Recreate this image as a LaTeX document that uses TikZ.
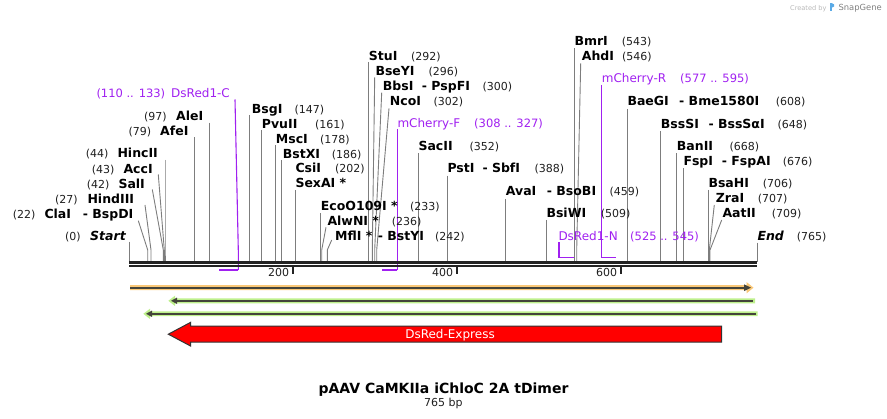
\documentclass[tikz,border=0pt]{standalone}
\usepackage{fontspec}
\setmainfont{DejaVu Sans}
\definecolor{purp}{RGB}{160,32,240}
\definecolor{cutgray}{RGB}{125,125,125}
\definecolor{seqblack}{RGB}{34,34,34}
\definecolor{orband}{RGB}{250,200,120}
\definecolor{grband}{RGB}{190,240,140}
\definecolor{featline}{RGB}{68,68,58}
\definecolor{snapblue}{RGB}{90,170,230}
\newcommand\mkcut[4]{%
  \coordinate (#1t) at (#2,#3);
  \coordinate (#1b) at (#4,250);
  \coordinate (#1s) at (#4,262);
  \draw[cutl] (#1t) -- (#1b) -- (#1s);}
\begin{document}
\begin{tikzpicture}[x=1pt,y=-1pt,
  nm/.style={font=\fontsize{12.5}{14}\selectfont\bfseries, anchor=base west, inner sep=0pt},
  nmi/.style={font=\fontsize{12.5}{14}\selectfont\bfseries\itshape, anchor=base west, inner sep=0pt},
  num/.style={font=\fontsize{11}{13}\selectfont, text=black!88, anchor=base west, inner sep=0pt},
  prim/.style={font=\fontsize{12}{14}\selectfont, text=purp, anchor=base west, inner sep=0pt},
  primn/.style={font=\fontsize{11.5}{13}\selectfont, text=purp, anchor=base west, inner sep=0pt},
  cutl/.style={draw=cutgray, line width=0.9pt},
  priml/.style={draw=purp, line width=1.1pt},
  bracket/.style={draw=purp, line width=1.6pt},
  seqline/.style={draw=seqblack, line width=2.5pt},
  tickl/.style={draw=seqblack, line width=1.8pt},
  ticklab/.style={font=\fontsize{11}{13}\selectfont, text=black!88, anchor=base east, inner sep=0pt},
  featl/.style={draw=featline, line width=2pt},
]
\useasboundingbox (0,0) rectangle (887,419);

% ---------- cut-site lines ----------
\mkcut{Start}{129.3}{241.7}{129.3}
\mkcut{ClaI}{138.3}{220.7}{147.7}
\mkcut{HindIII}{145}{205}{151}
\mkcut{SalI}{152.3}{189.5}{163.3}
\mkcut{AccI}{158.3}{174.5}{164.3}
\mkcut{HincII}{165}{160}{165}
\mkcut{AfeI}{194.3}{137.3}{194.3}
\mkcut{AleI}{209.3}{122.7}{209.3}
\mkcut{BsgI}{249.3}{115}{249.3}
\mkcut{PvuII}{261.7}{129.8}{261.7}
\mkcut{MscI}{275.7}{145}{275.7}
\mkcut{BstXI}{281.3}{159.8}{281.3}
\mkcut{SexAI}{295.3}{190}{295.3}
\mkcut{EcoO}{320.3}{213.3}{320.3}
\mkcut{AlwNI}{326}{227.3}{321.7}
\mkcut{MflI}{331.7}{240}{327.3}
\mkcut{StuI}{368.7}{62}{368.7}
\mkcut{BseYI}{374.7}{77.3}{372.3}
\mkcut{BbsI}{381.7}{92.7}{374.7}
\mkcut{NcoI}{389}{108.3}{376.7}
\mkcut{SacII}{418.3}{153.3}{418.3}
\mkcut{PstI}{447.3}{175.7}{447.3}
\mkcut{AvaI}{505.7}{199}{505.7}
\mkcut{BsiWI}{546.3}{220}{546.3}
\mkcut{BmrI}{574.3}{48.3}{574.3}
\mkcut{AhdI}{580.7}{63.3}{576.7}
\mkcut{BaeGI}{627.3}{109}{627.3}
\mkcut{BssSI}{660.7}{131}{660.7}
\mkcut{BanII}{676.7}{153.3}{676.7}
\mkcut{FspI}{683.3}{168.3}{683.3}
\mkcut{BsaHI}{708.3}{190}{708.3}
\mkcut{ZraI}{714.3}{205}{709.3}
\mkcut{AatII}{721.7}{220}{710}
\mkcut{End}{757.3}{242.7}{757.3}

% ---------- primer lines ----------
\coordinate (pCt) at (235,99.5);
\coordinate (pCb) at (238.3,250);
\coordinate (pCe) at (238.3,270);
\coordinate (pCl) at (219,270);
\draw[priml] (pCt) -- (pCb) -- (pCe);
\draw[bracket] (pCe) -- (pCl);
\coordinate (pFt) at (397.3,129.5);
\coordinate (pFe) at (397.3,270);
\coordinate (pFl) at (381.7,270);
\draw[priml] (pFt) -- (pFe);
\draw[bracket] (pFe) -- (pFl);
\coordinate (pNt) at (558.7,242.5);
\coordinate (pNe) at (558.7,257.7);
\coordinate (pNr) at (574.3,257.7);
\draw[bracket] (pNt) -- (pNe) -- (pNr);
\coordinate (pRt) at (601.7,85);
\coordinate (pRe) at (601.7,257.7);
\coordinate (pRr) at (615.7,257.7);
\draw[priml] (pRt) -- (pRe);
\draw[bracket] (pRe) -- (pRr);

% ---------- sequence line and ticks ----------
\coordinate (seqLa) at (129.3,262.3);
\coordinate (seqRa) at (757.3,262.3);
\coordinate (seqLb) at (129.3,266.2);
\coordinate (seqRb) at (757.3,266.2);
\draw[seqline] (seqLa) -- (seqRa);
\draw[seqline] (seqLb) -- (seqRb);
\foreach \p/\x in {200/292.7,400/456.7,600/620.7}{
  \coordinate (tk\p a) at (\x,267.5);
  \coordinate (tk\p b) at (\x,274.3);
  \draw[tickl] (tk\p a) -- (tk\p b);
  \node[ticklab] (tl\p) at (\x-3.4,276.7) {\p};
}

% ---------- left labels ----------
\node[num] (nStart) at (65,240.7) {(0)};
\node[nmi] (lStart) at (90,240.7) {Start};
\node[num] (nClaI) at (12.7,218.3) {(22)};
\node[nm] (lClaI) at (44.3,218.3) {ClaI};
\node[nm] (lBspDI) at (82.7,218.3) {- BspDI};
\node[num] (nHindIII) at (55,203.3) {(27)};
\node[nm] (lHindIII) at (87.3,203.3) {HindIII};
\node[num] (nSalI) at (86.7,188.3) {(42)};
\node[nm] (lSalI) at (118.3,188.3) {SalI};
\node[num] (nAccI) at (91.7,173.3) {(43)};
\node[nm] (lAccI) at (123.3,173.3) {AccI};
\node[num] (nHincII) at (85.7,157.7) {(44)};
\node[nm] (lHincII) at (117.3,157.7) {HincII};
\node[num] (nAfeI) at (128.3,136) {(79)};
\node[nm] (lAfeI) at (160,136) {AfeI};
\node[num] (nAleI) at (144,120.7) {(97)};
\node[nm] (lAleI) at (176,120.7) {AleI};
\node[primn] (nDsC) at (96.3,98) {(110 .. 133)};
\node[prim] (lDsC) at (171,98) {DsRed1-C};

% ---------- middle / right labels ----------
\node[nm] (lBsgI) at (251.7,113.3) {BsgI};
\node[num] (nBsgI) at (294.3,113.3) {(147)};
\node[nm] (lPvuII) at (261.7,128.3) {PvuII};
\node[num] (nPvuII) at (315,128.3) {(161)};
\node[nm] (lMscI) at (275.7,143.3) {MscI};
\node[num] (nMscI) at (320,143.3) {(178)};
\node[nm] (lBstXI) at (282.7,158.3) {BstXI};
\node[num] (nBstXI) at (331.7,158.3) {(186)};
\node[nm] (lCsiI) at (295.3,172.7) {CsiI};
\node[num] (nCsiI) at (335,172.7) {(202)};
\node[nm] (lSexAI) at (295.3,187.7) {SexAI *};
\node[nm] (lEcoO) at (320.7,210.7) {EcoO109I *};
\node[num] (nEcoO) at (410,210.7) {(233)};
\node[nm] (lAlwNI) at (327.3,226) {AlwNI *};
\node[num] (nAlwNI) at (391.7,226) {(236)};
\node[nm] (lMflI) at (335,241) {MflI *};
\node[nm] (lBstYI) at (377.7,241) {- BstYI};
\node[num] (nMflI) at (435,241) {(242)};
\node[nm] (lStuI) at (368.7,60.7) {StuI};
\node[num] (nStuI) at (411,60.7) {(292)};
\node[nm] (lBseYI) at (375.3,76) {BseYI};
\node[num] (nBseYI) at (428.3,76) {(296)};
\node[nm] (lBbsI) at (382.7,90.7) {BbsI};
\node[nm] (lPspFI) at (421.7,90.7) {- PspFI};
\node[num] (nBbsI) at (482.3,90.7) {(300)};
\node[nm] (lNcoI) at (389.7,106) {NcoI};
\node[num] (nNcoI) at (433.3,106) {(302)};
\node[prim] (lmChF) at (397.3,127.3) {mCherry-F};
\node[primn] (nmChF) at (474,127.3) {(308 .. 327)};
\node[nm] (lSacII) at (418.3,151) {SacII};
\node[num] (nSacII) at (469.3,151) {(352)};
\node[nm] (lPstI) at (447.3,172.3) {PstI};
\node[nm] (lSbfI) at (482.3,172.3) {- SbfI};
\node[num] (nPstI) at (534.3,172.3) {(388)};
\node[nm] (lAvaI) at (505.7,195.7) {AvaI};
\node[nm] (lBsoBI) at (546.7,195.7) {- BsoBI};
\node[num] (nAvaI) at (609.3,195.7) {(459)};
\node[nm] (lBsiWI) at (546.3,217.7) {BsiWI};
\node[num] (nBsiWI) at (600.7,217.7) {(509)};
\node[prim] (lDsN) at (558.3,240.7) {DsRed1-N};
\node[primn] (nDsN) at (630,240.7) {(525 .. 545)};
\node[nm] (lBmrI) at (574.3,46) {BmrI};
\node[num] (nBmrI) at (621.7,46) {(543)};
\node[nm] (lAhdI) at (581.7,61) {AhdI};
\node[num] (nAhdI) at (622,61) {(546)};
\node[prim] (lmChR) at (601.7,82.3) {mCherry-R};
\node[primn] (nmChR) at (680,82.3) {(577 .. 595)};
\node[nm] (lBaeGI) at (627.3,105.7) {BaeGI};
\node[nm] (lBme) at (679,105.7) {- Bme1580I};
\node[num] (nBaeGI) at (775.7,105.7) {(608)};
\node[nm] (lBssSI) at (660.7,128.3) {BssSI};
\node[nm] (lBssSaI) at (708.3,128.3) {- BssSαI};
\node[num] (nBssSI) at (777.3,128.3) {(648)};
\node[nm] (lBanII) at (676.7,150.7) {BanII};
\node[num] (nBanII) at (729.3,150.7) {(668)};
\node[nm] (lFspI) at (683.3,165.7) {FspI};
\node[nm] (lFspAI) at (721.7,165.7) {- FspAI};
\node[num] (nFspI) at (782.7,165.7) {(676)};
\node[nm] (lBsaHI) at (708.3,187.7) {BsaHI};
\node[num] (nBsaHI) at (762.7,187.7) {(706)};
\node[nm] (lZraI) at (715.7,202.7) {ZraI};
\node[num] (nZraI) at (757.7,202.7) {(707)};
\node[nm] (lAatII) at (722.3,217.7) {AatII};
\node[num] (nAatII) at (771.7,217.7) {(709)};
\node[nmi] (lEnd) at (757.3,241) {End};
\node[num] (nEnd) at (796.7,241) {(765)};

% ---------- features ----------
% orange forward
\fill[orband] (130,285.2) -- (746.5,285.2) -- (746.5,282) -- (753.5,287.7) -- (746.5,293.4) -- (746.5,290.2) -- (130,290.2) -- cycle;
\coordinate (orL) at (130,287.7);
\coordinate (orR) at (745,287.7);
\draw[featl] (orL) -- (orR);
\fill[featline] (744,284.3) -- (751,287.7) -- (744,291.1) -- cycle;
% green reverse 1
\fill[grband] (755,298.3) -- (175,298.3) -- (175,295.7) -- (168.3,300.8) -- (175,306) -- (175,303.3) -- (755,303.3) -- cycle;
\coordinate (g1R) at (752.7,300.8);
\coordinate (g1L) at (176,300.8);
\draw[featl] (g1R) -- (g1L);
\fill[featline] (177,297.6) -- (171,300.8) -- (177,304) -- cycle;
% green reverse 2
\fill[grband] (757.7,311.5) -- (150,311.5) -- (150,308.7) -- (143.3,313.8) -- (150,319) -- (150,316.2) -- (757.7,316.2) -- cycle;
\coordinate (g2R) at (755.7,313.8);
\coordinate (g2L) at (151,313.8);
\draw[featl] (g2R) -- (g2L);
\fill[featline] (152,310.6) -- (146,313.8) -- (152,317) -- cycle;
% DsRed-Express
\draw[fill=red, draw=black!80, line width=1pt] (168.3,334.2) -- (190.7,322.3) -- (190.7,326.2) -- (721.7,326.2) -- (721.7,342.2) -- (190.7,342.2) -- (190.7,346.1) -- cycle;
\node[font=\fontsize{12}{14}\selectfont, text=white, anchor=base, inner sep=0pt] (lDsEx) at (450,338.3) {DsRed-Express};

% ---------- title ----------
\node[font=\fontsize{14}{16}\selectfont\bfseries, anchor=base, inner sep=0pt] (title) at (443.5,393.3) {pAAV CaMKIIa iChloC 2A tDimer};
\node[font=\fontsize{11}{13}\selectfont, text=black!88, anchor=base, inner sep=0pt] (bp) at (443.4,406.7) {765 bp};

% ---------- credit ----------
\node[font=\fontsize{6.6}{8}\selectfont, text=black!28, anchor=base west, inner sep=0pt] (cred) at (790,10.3) {Created by};
\fill[snapblue] (829.6,3.2) rectangle (831.9,11.2);
\fill[snapblue] (831.9,3.2) -- (834.2,4.4) -- (834.2,6.4) -- (831.9,7.6) -- cycle;
\node[font=\fontsize{8.4}{10}\selectfont, text=black!50, anchor=base west, inner sep=0pt] (snap) at (838.3,10.6) {SnapGene};
\end{tikzpicture}
\end{document}
